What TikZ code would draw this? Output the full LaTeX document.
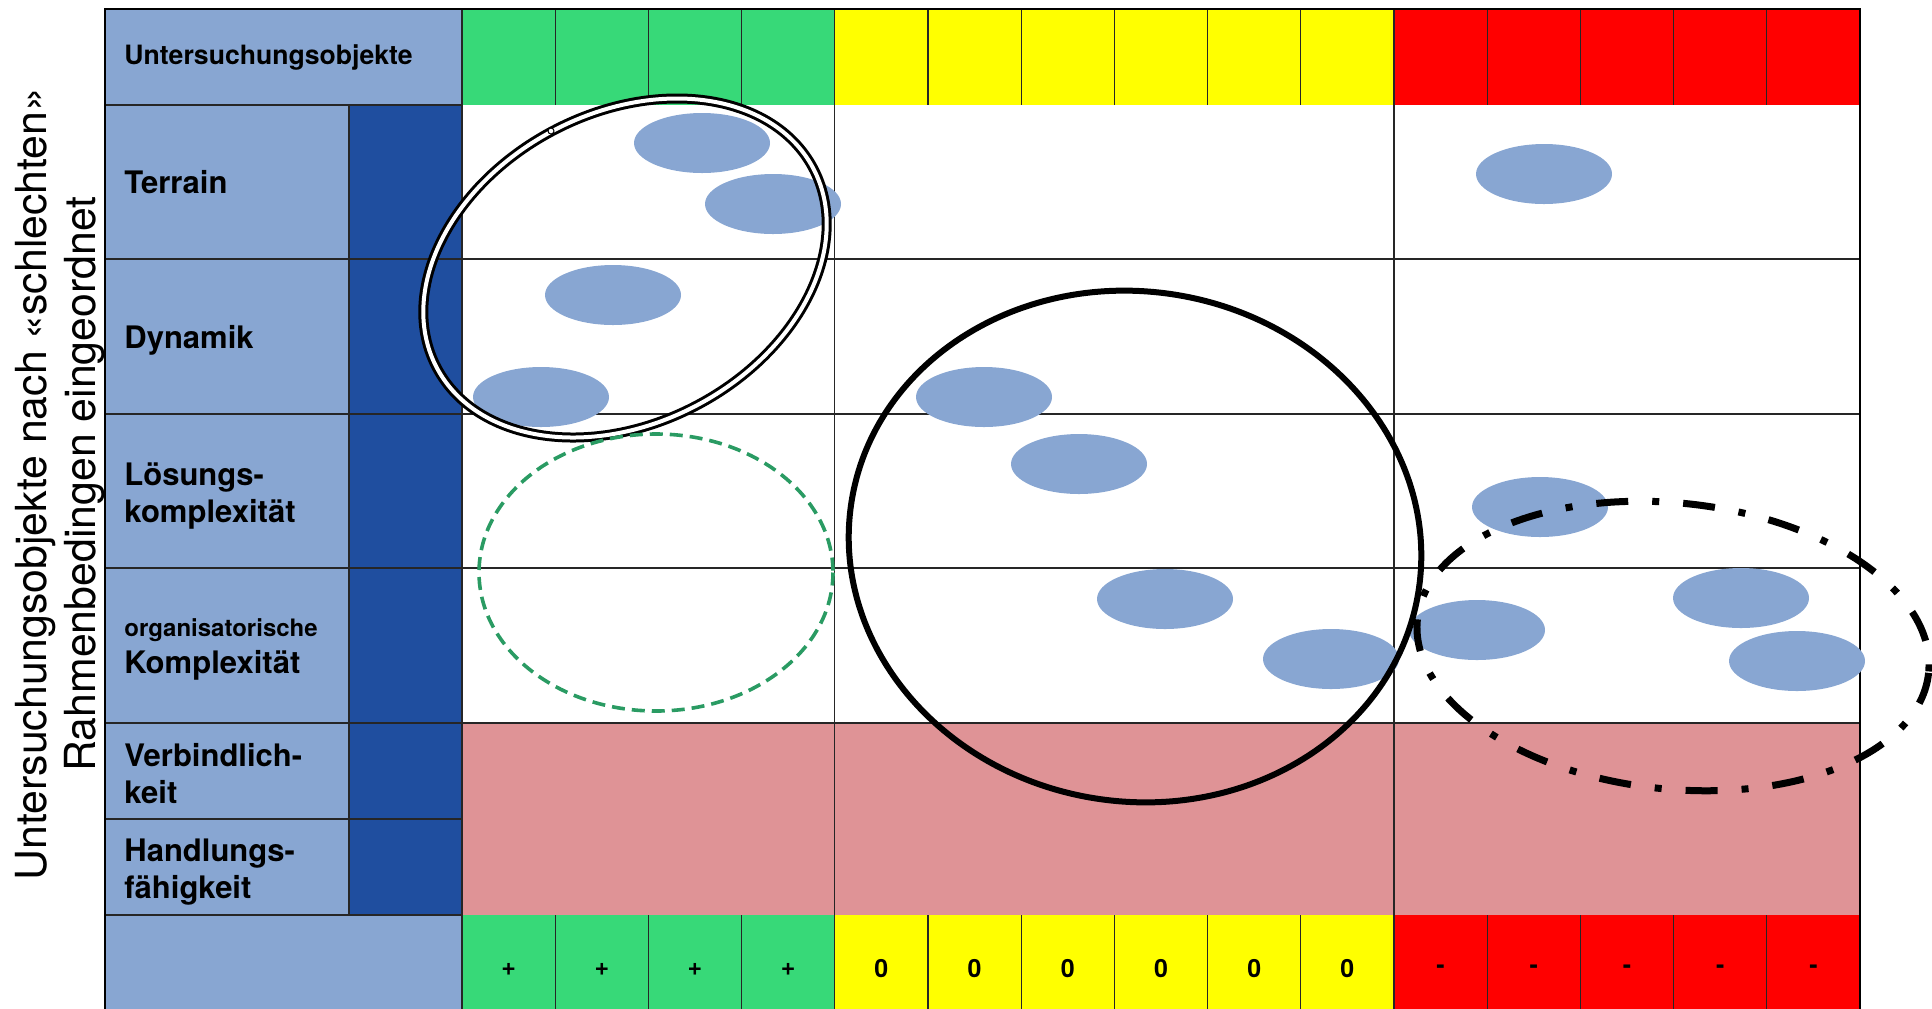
\documentclass[tikz,border=0pt]{standalone}
\usepackage{fontspec}
\setmainfont{TeX Gyre Heros}
\usepackage{tikz}
\usetikzlibrary{positioning}
\definecolor{hellblau}{HTML}{88A6D2}
\definecolor{dunkelblau}{HTML}{1F4E9F}
\definecolor{gruen}{HTML}{37D978}
\definecolor{gelb}{HTML}{FFFF00}
\definecolor{rot}{HTML}{FF0000}
\definecolor{rosa}{HTML}{DF9396}
\definecolor{kreisgruen}{HTML}{2A9B63}

\begin{document}
\begin{tikzpicture}[
  x=0.5pt, y=-0.5pt,
  gitter/.style={draw=black!85, line width=0.6pt},
  rahmen/.style={draw=black, line width=1.3pt},
  kopf/.style={anchor=west, inner sep=0pt,
    font=\fontsize{13.3}{16}\selectfont\bfseries},
  zeile/.style={anchor=west, align=left, inner sep=0pt,
    font=\fontsize{15.5}{18.5}\selectfont\bfseries},
  wert/.style={inner sep=0pt, font=\fontsize{12.5}{14}\selectfont\bfseries},
  achse/.style={rotate=90, align=center, inner sep=0pt,
    font=\fontsize{21.4}{24.5}\selectfont},
  wolke/.style={fill=hellblau},
  rahmenkreis/.style={draw=black, line width=3pt},
  doppelt/.style={draw=black, line width=1.5pt, double=white, double distance=2pt},
  gestrichelt/.style={draw=kreisgruen, line width=1.8pt, dash pattern=on 6.5pt off 3.5pt},
  strichpunkt/.style={draw=black, line width=3.5pt,
    dash pattern=on 16pt off 12pt on 3.5pt off 12pt}
]
  \useasboundingbox (0,0) rectangle (1932,1008);
  \clip (0,0) rectangle (1932,1008);

  % Flaechen
  \fill[hellblau] (105,9) rectangle (462,105);
  \fill[hellblau] (105,105) rectangle (349,915);
  \fill[dunkelblau] (349,105) rectangle (462,915);
  \fill[hellblau] (105,915) rectangle (462,1020);
  \foreach \ya/\yb in {9/105, 915/1020} {
    \fill[gruen] (462,\ya) rectangle (834.8,\yb);
    \fill[gelb] (834.8,\ya) rectangle (1394,\yb);
    \fill[rot] (1394,\ya) rectangle (1860,\yb);
  }
  \fill[rosa] (462,723) rectangle (1860,915);

  % Gitter
  \foreach \i in {1,...,14} {
    \draw[gitter] (462+93.2*\i,9) -- (462+93.2*\i,105);
    \draw[gitter] (462+93.2*\i,915) -- (462+93.2*\i,1020);
  }
  \draw[gitter] (834.8,105) -- (834.8,915);
  \draw[gitter] (1394,105) -- (1394,915);
  \draw[gitter] (462,9) -- (462,1020);
  \draw[gitter] (349,105) -- (349,915);
  \foreach \yl in {259,414,568,723}
    \draw[gitter] (105,\yl) -- (1860,\yl);
  \foreach \yl in {105,819,915}
    \draw[gitter] (105,\yl) -- (462,\yl);
  \draw[rahmen] (105,1020) -- (105,9) -- (1860,9) -- (1860,1020);

  % Texte
  \node[achse] (achse) at (60,484)
    {Untersuchungsobjekte nach «schlechten»\\Rahmenbedingen eingeordnet};
  \node[kopf] (kopf) at (124,57) {Untersuchungsobjekte};
  \node[zeile] (terrain) at (124,182) {Terrain};
  \node[zeile] (dynamik) at (124,340) {Dynamik};
  \node[zeile] (loesung) at (124,496) {Lösungs-\\komplexität};
  \node[zeile] (orga) at (124,649)
    {{\fontsize{12}{14}\selectfont organisatorische}\\Komplexität};
  \node[zeile] (verbindlich) at (124,774) {Verbindlich-\\keit};
  \node[zeile] (handlung) at (124,872) {Handlungs-\\fähigkeit};

  \foreach \i in {0,...,3}
    \node[wert] (plus\i) at (508.6+93.2*\i,969) {+};
  \foreach \i in {4,...,9}
    \node[wert] (null\i) at (508.6+93.2*\i,969) {0};
  \foreach \i in {10,...,14}
    \node[wert] (minus\i) at (508.6+93.2*\i,969) {-};

  % Objekte
  \foreach \px/\py in {702/143, 773/204, 613/295, 541/397, 1544/174,
      984/397, 1079/464, 1540/507, 1165/599, 1331/659,
      1477/630, 1741/598, 1797/661}
    \fill[wolke] (\px,\py) ellipse [x radius=68, y radius=30];

  \draw[doppelt, rotate around={28:(625,268)}]
    (625,268) ellipse [x radius=213, y radius=155];
  \draw[line width=0.5pt, fill=white] (551,131) circle [radius=3];
  \draw[gestrichelt] (656,572.5) ellipse [x radius=177, y radius=138.5];
  \draw[rahmenkreis, rotate around={-9:(1135,546.5)}]
    (1135,546.5) ellipse [x radius=287, y radius=255];
  \draw[strichpunkt, rotate around={-6:(1673,646)}]
    (1673,646) ellipse [x radius=257, y radius=143];
\end{tikzpicture}
\end{document}
